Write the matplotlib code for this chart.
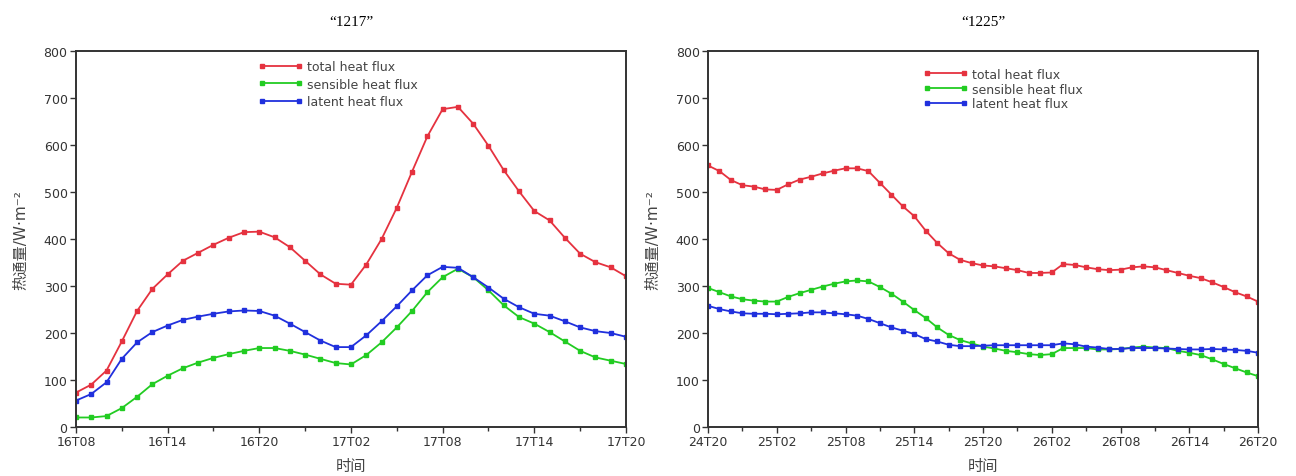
import numpy as np
import matplotlib.pyplot as plt
from matplotlib.ticker import MultipleLocator

# hourly values, case "1217" (16T08 -> 17T20)
total_1217 = [73, 90, 120, 182, 247, 294, 325, 354, 371, 388, 403, 415, 416,
              404, 383, 354, 325, 305, 303, 346, 400, 467, 544, 619, 677, 682,
              646, 599, 547, 502, 460, 440, 403, 369, 351, 340, 321]
sensible_1217 = [20, 20, 23, 40, 64, 91, 109, 125, 137, 147, 155, 162, 168,
                 168, 162, 154, 145, 136, 133, 153, 180, 212, 247, 287, 319, 337,
                 319, 291, 259, 234, 220, 202, 182, 162, 148, 141, 134]
latent_1217 = [56, 70, 95, 145, 180, 202, 216, 228, 235, 241, 246, 248, 247,
               237, 220, 202, 184, 170, 170, 195, 225, 257, 291, 323, 341, 339,
               319, 297, 273, 255, 241, 237, 225, 212, 204, 200, 192]
ticks_1217 = ["16T08", "16T14", "16T20", "17T02", "17T08", "17T14", "17T20"]

# hourly values, case "1225" (24T20 -> 26T20)
total_1225 = [557, 545, 526, 515, 512, 506, 505, 517, 527, 533, 540, 546, 551,
              551, 545, 520, 495, 470, 449, 418, 392, 370, 356, 349, 344, 342,
              338, 334, 328, 328, 329, 347, 345, 340, 336, 334, 335, 340, 342,
              340, 334, 328, 322, 317, 308, 298, 287, 278, 267]
sensible_1225 = [296, 287, 278, 272, 269, 267, 267, 277, 285, 292, 299, 305, 310,
                 312, 310, 298, 284, 267, 249, 232, 212, 196, 185, 178, 171, 167,
                 162, 159, 155, 153, 155, 168, 168, 168, 165, 165, 166, 169, 171,
                 169, 168, 162, 158, 153, 144, 134, 125, 116, 108]
latent_1225 = [258, 251, 246, 242, 241, 241, 240, 241, 242, 244, 244, 242, 240,
               237, 230, 221, 212, 205, 198, 187, 182, 175, 172, 172, 173, 174,
               174, 174, 174, 174, 174, 178, 176, 171, 169, 166, 166, 168, 168,
               168, 167, 166, 165, 165, 166, 165, 164, 162, 158]
ticks_1225 = ["24T20", "25T02", "25T08", "25T14", "25T20", "26T02", "26T08",
              "26T14", "26T20"]

series_names = ["total heat flux", "sensible heat flux", "latent heat flux"]
colors = ["#e5323f", "#22cc22", "#2030dd"]

cjk = ["DejaVu Sans", "Noto Sans CJK SC"]

fig = plt.figure(figsize=(12.96, 4.77), dpi=100)
ax1 = fig.add_axes([0.0586, 0.103, 0.4244, 0.787])
ax2 = fig.add_axes([0.5463, 0.103, 0.4244, 0.787])

# (axes, title, series, tick labels, legend anchor, legend row spacing)
panels = [
    (ax1, "\u201c1217\u201d", [total_1217, sensible_1217, latent_1217], ticks_1217,
     (0.315, 1.0), 0.35),
    (ax2, "\u201c1225\u201d", [total_1225, sensible_1225, latent_1225], ticks_1225,
     (0.375, 0.98), 0.15),
]

for ax, title, data, ticklabels, leg_pos, leg_space in panels:
    n = len(data[0])
    hours = np.arange(n)
    for vals, name, c in zip(data, series_names, colors):
        ax.plot(hours, vals, color=c, lw=1.3, marker="s", ms=3.4, label=name)
    ax.set_xlim(0, n - 1)
    ax.set_ylim(0, 800)
    ax.set_xticks(np.arange(0, n, 6))
    ax.set_xticklabels(ticklabels)
    ax.xaxis.set_minor_locator(MultipleLocator(3))
    ax.set_yticks(np.arange(0, 801, 100))
    ax.tick_params(axis="both", which="major", labelsize=9, length=4,
                   width=1, colors="#333333", pad=2)
    ax.tick_params(axis="x", which="minor", length=3, width=1, color="#333333")
    for s in ax.spines.values():
        s.set_linewidth(1.4)
        s.set_color("#333333")
    ax.set_title(title, family="Liberation Serif", fontsize=11, pad=19)
    ax.set_xlabel("时间", family=cjk, fontsize=11, color="#444444", labelpad=7)
    ax.set_ylabel("热通量/W·m⁻²", family=cjk, fontsize=11, color="#444444",
                  labelpad=11)
    ax.legend(loc="upper left", bbox_to_anchor=leg_pos, frameon=False,
              fontsize=9, numpoints=2, handlelength=3.6, handletextpad=0.3,
              labelspacing=leg_space, borderaxespad=0.3, labelcolor="#444444")

fig.savefig("out.png", dpi=100, facecolor="white")
